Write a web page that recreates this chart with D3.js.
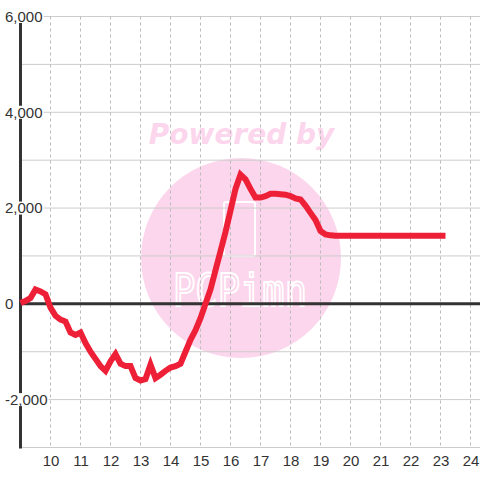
<!DOCTYPE html>
<html>
<head>
<meta charset="utf-8">
<script src="https://cdn.jsdelivr.net/npm/d3@7"></script>
<style>
  body { margin: 0; background: #fff; }
  svg { display: block; }
  text { font-family: "Liberation Sans", Arial, sans-serif; }
</style>
</head>
<body>
<div id="chart"></div>
<script>
var width = 480;
var height = 480;

// 10-minute samples, 09:00 - 23:10
var times = ["09:00","09:10","09:20","09:30","09:40","09:50",
    "10:00","10:10","10:20","10:30","10:40","10:50",
    "11:00","11:10","11:20","11:30","11:40","11:50",
    "12:00","12:10","12:20","12:30","12:40","12:50",
    "13:00","13:10","13:20","13:30","13:40","13:50",
    "14:00","14:10","14:20","14:30","14:40","14:50",
    "15:00","15:10","15:20","15:30","15:40","15:50",
    "16:00","16:10","16:20","16:30","16:40","16:50",
    "17:00","17:10","17:20","17:30","17:40","17:50",
    "18:00","18:10","18:20","18:30","18:40","18:50",
    "19:00","19:10","19:20","19:30","19:40","19:50",
    "20:00","20:10","20:20","20:30","20:40","20:50",
    "21:00","21:10","21:20","21:30","21:40","21:50",
    "22:00","22:10","22:20","22:30","22:40","22:50",
    "23:00","23:10"];
var values = [20, 60, 120, 300, 260, 200,
    -80, -250, -330, -370, -600, -650,
    -600, -820, -1000, -1150, -1300, -1400,
    -1200, -1050, -1250, -1300, -1300, -1550,
    -1600, -1570, -1270, -1550, -1480, -1400,
    -1330, -1300, -1250, -1000, -750, -550,
    -300, 0, 300, 700, 1100, 1500,
    1950, 2400, 2700, 2600, 2400, 2220,
    2220, 2250, 2300, 2300, 2290, 2280,
    2250, 2200, 2180, 2050, 1900, 1750,
    1520, 1450, 1430, 1420, 1420, 1420,
    1420, 1420, 1420, 1420, 1420, 1420,
    1420, 1420, 1420, 1420, 1420, 1420,
    1420, 1420, 1420, 1420, 1420, 1420,
    1420, 1420];

var xTicks = [10, 11, 12, 13, 14, 15, 16, 17, 18, 19, 20, 21, 22, 23, 24];
var yGrid = [6000, 5000, 4000, 3000, 2000, 1000, 0, -1000, -2000, -3000];
var yLabels = [6000, 4000, 2000, 0, -2000];

var svg = d3.select("#chart")
    .append("svg")
    .attr("width", width)
    .attr("height", height);

var x = d3.scaleLinear().domain([9, 24.3]).range([20.5, 479.5]);
var y = d3.scaleLinear().domain([-3000, 6000]).range([447.5, 16.5]);

function hours(t){
    var p = t.split(":");
    return +p[0] + (+p[1]) / 60;
}

var data = times.map(function(t, i){ return {h: hours(t), v: values[i]}; });

// watermark
var wm = svg.append("g");
wm.append("circle")
    .attr("cx", 241)
    .attr("cy", 258)
    .attr("r", 100)
    .attr("fill", "#fcd6ec");
wm.append("text")
    .attr("x", 241.5)
    .attr("y", 144)
    .attr("text-anchor", "middle")
    .style("font-family", "DejaVu Sans")
    .style("font-weight", "bold")
    .style("font-style", "oblique")
    .style("font-size", "28px")
    .attr("fill", "#fcd6ec")
    .text("Powered by");
wm.append("rect")
    .attr("x", 224)
    .attr("y", 202)
    .attr("width", 31)
    .attr("height", 54)
    .attr("rx", 2)
    .attr("fill", "none")
    .attr("stroke", "#fff")
    .attr("stroke-width", 2);
wm.append("text")
    .attr("x", 173)
    .attr("y", 306)
    .attr("textLength", 134)
    .attr("lengthAdjust", "spacingAndGlyphs")
    .style("font-family", "DejaVu Sans Mono")
    .style("font-size", "44px")
    .attr("fill", "none")
    .attr("stroke", "#fff")
    .attr("stroke-width", 2)
    .text("PCPimn");

// grid
svg.append("g")
    .selectAll("line")
    .data(yGrid)
    .enter().append("line")
    .attr("x1", x(9))
    .attr("x2", width)
    .attr("y1", function(d){ return y(d); })
    .attr("y2", function(d){ return y(d); })
    .attr("stroke", "#cccccc")
    .attr("stroke-width", 1);

svg.append("g")
    .selectAll("line")
    .data(xTicks)
    .enter().append("line")
    .attr("x1", function(d){ return x(d); })
    .attr("x2", function(d){ return x(d); })
    .attr("y1", y(6000))
    .attr("y2", y(-3000))
    .attr("stroke", "#bbbbbb")
    .attr("stroke-width", 1)
    .attr("stroke-dasharray", "3,3");

// zero line + left axis
svg.append("line")
    .attr("x1", x(9))
    .attr("x2", width)
    .attr("y1", y(0))
    .attr("y2", y(0))
    .attr("stroke", "#333")
    .attr("stroke-width", 3);

svg.append("line")
    .attr("x1", x(9))
    .attr("x2", x(9))
    .attr("y1", y(6000))
    .attr("y2", y(-3000) + 1)
    .attr("stroke", "#333")
    .attr("stroke-width", 3);

// series
var line = d3.line()
    .x(function(d){ return x(d.h); })
    .y(function(d){ return y(d.v); });

svg.append("path")
    .datum(data)
    .attr("d", line)
    .attr("fill", "none")
    .attr("stroke", "#ee2038")
    .attr("stroke-width", 6)
    .attr("stroke-linejoin", "miter");

// y labels with white backing
var fmt = d3.format(",");
var yl = svg.append("g")
    .selectAll("g")
    .data(yLabels)
    .enter().append("g")
    .attr("transform", function(d){ return "translate(5," + y(d) + ")"; });
yl.append("text")
    .attr("dy", "0.36em")
    .style("font-size", "15px")
    .attr("fill", "#333")
    .text(function(d){ return fmt(d).replace("−", "-"); })
    .each(function(){
        var b = this.getBBox();
        d3.select(this.parentNode).insert("rect", "text")
            .attr("x", b.x - 1)
            .attr("y", -6.5)
            .attr("width", b.width + 2)
            .attr("height", 13)
            .attr("fill", "#fff");
    });

// x labels
var xAxis = d3.axisBottom(x)
    .tickValues(xTicks)
    .tickSize(0)
    .tickPadding(0)
    .tickFormat(d3.format("d"));
var gx = svg.append("g")
    .attr("transform", "translate(0," + (y(-3000) + 8) + ")")
    .call(xAxis);
gx.select(".domain").remove();
gx.selectAll("text")
    .style("font-family", "'Liberation Sans', Arial, sans-serif")
    .style("font-size", "15px")
    .attr("fill", "#333");
</script>
</body>
</html>
